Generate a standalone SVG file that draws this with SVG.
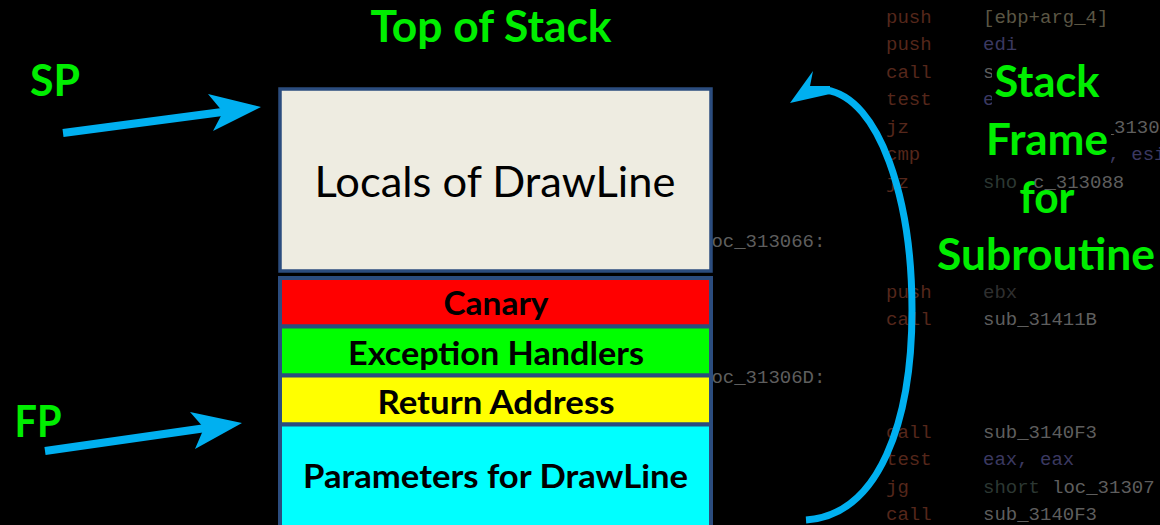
<svg xmlns="http://www.w3.org/2000/svg" width="1160" height="525" viewBox="0 0 1160 525">
<style>
.code{font-family:"Liberation Mono",monospace;font-size:19px}
.mn{fill:#55271b}
.op{fill:#5e5e5e}
.opp{fill:#3b3960}
.opt{fill:#5b5644}
.opg{fill:#2c3833}
.lbl{font-family:Lato,"Open Sans",sans-serif;font-weight:bold;font-size:44px;fill:#00ee00;text-anchor:middle}
.cell{stroke:#2b4c7e;stroke-width:4}
.ct{font-family:Lato,"Open Sans",sans-serif;font-weight:bold;font-size:33px;fill:#000;text-anchor:middle}
.blue{stroke:#00b0f0;fill:none}
.head{fill:#00b0f0}
</style>
<rect x="0" y="0" width="1160" height="525" fill="#000"/>
<g id="code-bg" class="code">
  <text x="886" y="23" class="mn">push</text><text x="983" y="23" class="opt">[ebp+arg_4]</text>
  <text x="886" y="50" class="mn">push</text><text x="983" y="50" class="opp">edi</text>
  <text x="886" y="78" class="mn">call</text><text x="983" y="78" class="op">sub_3140F3</text>
  <text x="886" y="105" class="mn">test</text><text x="983" y="105" class="opp">eax, eax</text>
  <text x="886" y="133" class="mn">jz</text><text x="1000" y="133" class="op">short loc_313066</text>
  <text x="886" y="160" class="mn">cmp</text><text x="983" y="160" class="opp">[ebp+var_8], esi</text>
  <text x="886" y="188" class="mn">jz</text><text x="983" y="188" class="opg">sho</text><text x="1033" y="188" class="op">c_313088</text>
  <text x="700" y="247" class="op">loc_313066:</text>
  <text x="886" y="298" class="mn">push</text><text x="983" y="298" class="op" opacity="0.5">ebx</text>
  <text x="886" y="325" class="mn">call</text><text x="983" y="325" class="op">sub_31411B</text>
  <text x="700" y="383" class="op">loc_31306D:</text>
  <text x="886" y="438" class="mn">call</text><text x="983" y="438" class="op">sub_3140F3</text>
  <text x="886" y="465" class="mn">test</text><text x="983" y="465" class="opp">eax, eax</text>
  <text x="886" y="493" class="mn">jg</text><text x="983" y="493" class="opg">short </text><text x="1052" y="493" class="op">loc_31307</text>
  <text x="886" y="520" class="mn">call</text><text x="983" y="520" class="op">sub_3140F3</text>
</g>
<g id="title">
  <text x="491" y="42" class="lbl" textLength="241" lengthAdjust="spacingAndGlyphs">Top of Stack</text>
</g>
<g id="sp-label"><text x="55" y="96" class="lbl" textLength="50" lengthAdjust="spacingAndGlyphs">SP</text></g>
<g id="fp-label"><text x="38" y="437" class="lbl" textLength="47" lengthAdjust="spacingAndGlyphs">FP</text></g>
<g id="frame-label">
  <rect x="992" y="62" width="112" height="46" fill="#000"/>
  <rect x="983" y="120" width="128" height="48" fill="#000"/>
  <rect x="1017" y="194" width="61" height="30" fill="#000"/>
  <rect x="934" y="236" width="226" height="44" fill="#000"/>
  <text x="1047" y="97" class="lbl" textLength="105" lengthAdjust="spacingAndGlyphs">Stack</text>
  <text x="1047" y="155" class="lbl" textLength="122" lengthAdjust="spacingAndGlyphs">Frame</text>
  <text x="1047" y="213" class="lbl" textLength="55" lengthAdjust="spacingAndGlyphs">for</text>
  <text x="1046" y="270" class="lbl" textLength="218" lengthAdjust="spacingAndGlyphs">Subroutine</text>
</g>
<g id="locals">
  <rect x="280" y="89" width="431" height="182" fill="#eeece1" stroke="#2b4c7e" stroke-width="3.5"/>
  <text x="495" y="197" font-family="Lato,'Open Sans',sans-serif" font-size="43" fill="#000" text-anchor="middle" textLength="361" lengthAdjust="spacingAndGlyphs">Locals of DrawLine</text>
</g>
<g id="canary">
  <rect x="280" y="278" width="431" height="48.5" fill="#ff0000" class="cell"/>
  <text x="496" y="315" class="ct" textLength="105" lengthAdjust="spacingAndGlyphs">Canary</text>
</g>
<g id="exception-handlers">
  <rect x="280" y="326.5" width="431" height="49" fill="#00ff00" class="cell"/>
  <text x="496" y="365" class="ct" textLength="296" lengthAdjust="spacingAndGlyphs">Exception Handlers</text>
</g>
<g id="return-address">
  <rect x="280" y="375.5" width="431" height="49" fill="#ffff00" class="cell"/>
  <text x="496" y="414" class="ct" textLength="237" lengthAdjust="spacingAndGlyphs">Return Address</text>
</g>
<g id="parameters">
  <rect x="280" y="424.5" width="431" height="106" fill="#00ffff" class="cell"/>
  <text x="495.5" y="488" class="ct" textLength="385" lengthAdjust="spacingAndGlyphs">Parameters for DrawLine</text>
</g>
<g id="connectors">
  <line x1="63" y1="133" x2="226" y2="111.5" class="blue" stroke-width="8"/>
  <polygon points="261,107 208,94 223,112 213,131" class="head"/>
  <line x1="45" y1="451" x2="206" y2="428" class="blue" stroke-width="8"/>
  <polygon points="242,423 190,412 204,428 195,449" class="head"/>
  <path d="M806 520 C880 515 912 420 912 310 C912 200 880 98 826 90" class="blue" stroke-width="7"/>
  <polygon points="790,103 813,71 810,86 830,86 830,94" class="head"/>
</g>
</svg>
